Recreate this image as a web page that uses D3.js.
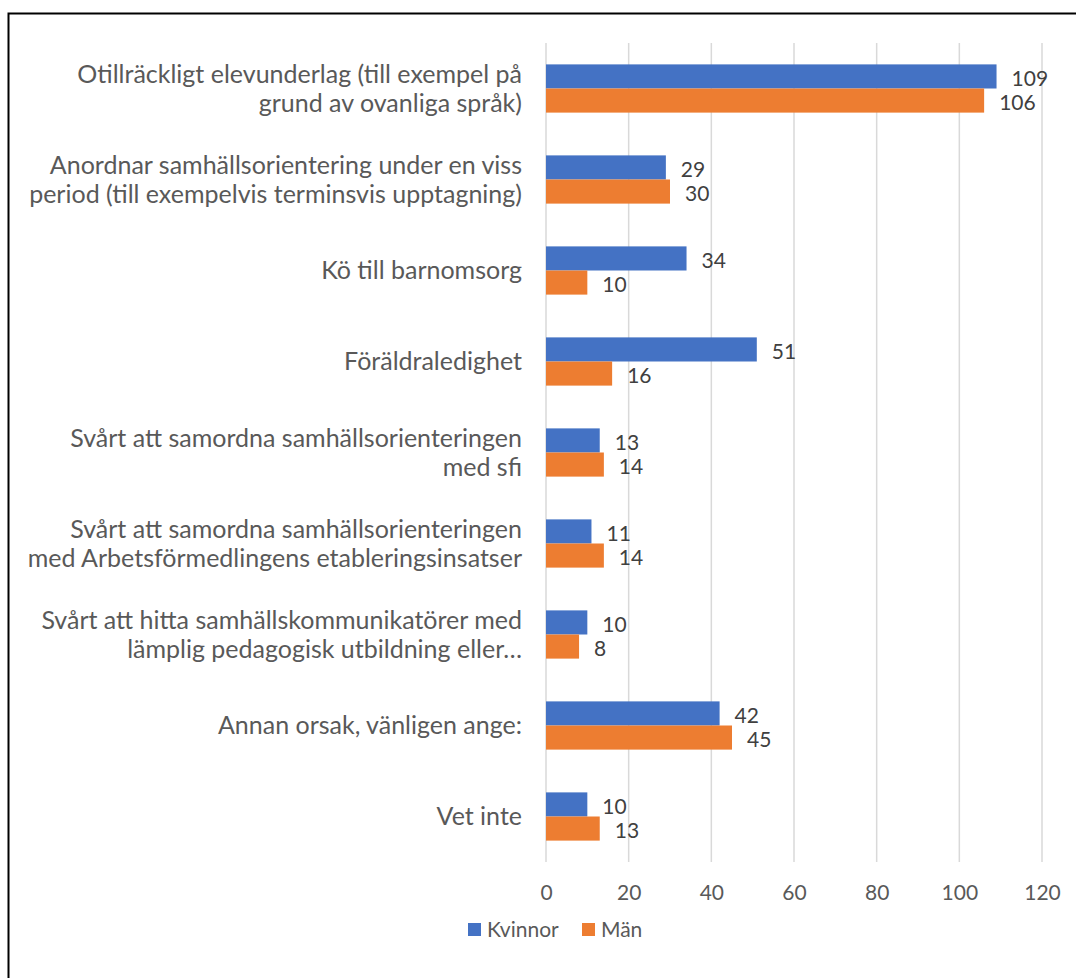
<!DOCTYPE html>
<html>
<head>
<meta charset="utf-8">
<script src="https://cdn.jsdelivr.net/npm/d3@7"></script>
<style>
  body { margin: 0; background: #fff; }
  svg { display: block; font-family: Lato, "Open Sans", sans-serif; }
</style>
</head>
<body>
<svg></svg>
<script>
// categories, top to bottom ("\n" = line break in the label)
var categories = [
    "Otillräckligt elevunderlag (till exempel på\ngrund av ovanliga språk)",
    "Anordnar samhällsorientering under en viss\nperiod (till exempelvis terminsvis upptagning)",
    "Kö till barnomsorg",
    "Föräldraledighet",
    "Svårt att samordna samhällsorienteringen\nmed sfi",
    "Svårt att samordna samhällsorienteringen\nmed Arbetsförmedlingens etableringsinsatser",
    "Svårt att hitta samhällskommunikatörer med\nlämplig pedagogisk utbildning eller…",
    "Annan orsak, vänligen ange:",
    "Vet inte"
]
var seriesNames = ["Kvinnor", "Män"]
var kvinnor = [109, 29, 34, 51, 13, 11, 10, 42, 10]
var man = [106, 30, 10, 16, 14, 14, 8, 45, 13]
var xTicks = [0, 20, 40, 60, 80, 100, 120]

drawChart = function(){
    var svgWidth = 1076;
    var svgHeight = 978;
    var plotLeft = 546, plotRight = 1042;
    var plotTop = 43, plotBottom = 862;
    var colours = ["#4472C4", "#ED7D31"];

    var svg = d3.select("svg")
        .attr("width", svgWidth)
        .attr("height", svgHeight);

    // outer frame
    svg.append("rect")
        .attr("x", 8.5).attr("y", 13.5)
        .attr("width", 1200).attr("height", 1200)
        .attr("fill", "none")
        .attr("stroke", "#000")
        .attr("stroke-width", 2);

    var x = d3.scaleLinear()
        .domain([0, 120])
        .range([plotLeft, plotRight]);

    var y = d3.scaleBand()
        .domain(d3.range(categories.length))
        .range([plotTop, plotBottom])
        .paddingInner(0.47)
        .paddingOuter(0.235);

    var ySub = d3.scaleBand()
        .domain([0, 1])
        .range([0, y.bandwidth()]);

    // gridlines
    svg.append("g")
        .selectAll("line")
        .data(xTicks)
        .enter()
        .append("line")
        .attr("x1", function(d){ return x(d); })
        .attr("x2", function(d){ return x(d); })
        .attr("y1", plotTop)
        .attr("y2", plotBottom)
        .attr("stroke", "#D9D9D9")
        .attr("stroke-width", 1.5);

    // x axis labels
    var xAxis = svg.append("g")
        .attr("transform", "translate(0," + plotBottom + ")")
        .call(d3.axisBottom(x).tickValues(xTicks).tickSize(0).tickPadding(23));
    xAxis.select(".domain").remove();
    xAxis.selectAll("text")
        .attr("fill", "#595959")
        .style("font-size", "21px")
        .style("font-family", "Lato, sans-serif");

    // bars
    var series = [kvinnor, man];
    series.forEach(function(values, s){
        svg.append("g")
            .selectAll(null)
            .data(values)
            .enter()
            .append("rect")
            .attr("x", x(0))
            .attr("y", function(d, i){ return y(i) + ySub(s); })
            .attr("width", function(d){ return x(d) - x(0); })
            .attr("height", ySub.bandwidth())
            .attr("fill", colours[s]);

        svg.append("g")
            .selectAll(null)
            .data(values)
            .enter()
            .append("text")
            .attr("x", function(d){ return x(d) + 15; })
            .attr("y", function(d, i){ return y(i) + ySub(s) + ySub.bandwidth()/2 + 2; })
            .attr("dy", "0.35em")
            .attr("fill", "#404040")
            .style("font-size", "21px")
            .text(function(d){ return d; });
    });

    // category labels
    var labels = svg.append("g")
        .selectAll(null)
        .data(categories)
        .enter()
        .append("text")
        .attr("text-anchor", "end")
        .attr("fill", "#595959")
        .style("font-size", "25px");
    labels.each(function(d, i){
        var lines = d.split("\n");
        var lineH = 29.5;
        var cy = y(i) + y.bandwidth()/2;
        var first = cy - (lines.length - 1) * lineH / 2;
        var t = d3.select(this);
        lines.forEach(function(line, k){
            t.append("tspan")
                .attr("x", 522)
                .attr("y", first + k * lineH)
                .attr("dy", "0.35em")
                .text(line);
        });
    });

    // legend
    var legendPos = [468, 582];
    var legend = svg.append("g")
        .selectAll(null)
        .data(seriesNames)
        .enter()
        .append("g")
        .attr("transform", function(d, i){ return "translate(" + legendPos[i] + ",923)"; });
    legend.append("rect")
        .attr("width", 13).attr("height", 13)
        .attr("fill", function(d, i){ return colours[i]; });
    legend.append("text")
        .attr("x", 19).attr("y", 7)
        .attr("dy", "0.35em")
        .attr("fill", "#595959")
        .style("font-size", "21px")
        .text(function(d){ return d; });
}

drawChart()
</script>
</body>
</html>
